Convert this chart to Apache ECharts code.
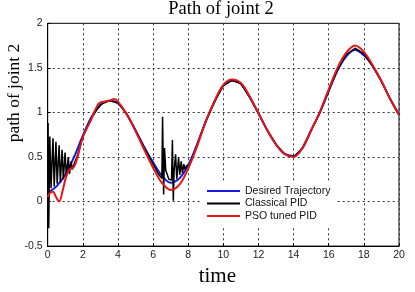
<!DOCTYPE html>
<html>
<head>
<meta charset="utf-8">
<script src="https://cdn.jsdelivr.net/npm/echarts@6/dist/echarts.min.js"></script>
<style>
  html, body { margin: 0; padding: 0; background: #fff; }
  #main { width: 415px; height: 292px; }
</style>
</head>
<body>
<div id="main"></div>
<script>
// desired trajectory (blue)
var desiredTime = [0, 0.5, 1, 1.5, 2, 2.5, 3, 3.5, 4, 4.5, 5, 5.5, 6, 6.5, 7, 7.5, 8, 8.5, 9, 9.5,
    10, 10.5, 11, 11.5, 12, 12.5, 13, 13.5, 14, 14.5, 15, 15.5, 16, 16.5, 17, 17.5, 18, 18.5, 19, 19.5, 20];
var desiredValues = [0.10, 0.17, 0.30, 0.50, 0.74, 0.95, 1.08, 1.13, 1.10, 0.98, 0.80, 0.61, 0.44, 0.29, 0.21, 0.26, 0.41, 0.64, 0.90, 1.12,
    1.30, 1.355, 1.32, 1.17, 0.99, 0.80, 0.64, 0.535, 0.51, 0.60, 0.80, 1.00, 1.24, 1.47, 1.63, 1.70, 1.64, 1.52, 1.35, 1.15, 0.98];

// classical PID (black)
var pidTime = [0, 0.02, 0.06, 0.12, 0.19, 0.3, 0.37, 0.47, 0.54, 0.65, 0.72, 0.82, 0.89, 0.99, 1.06, 1.17, 1.24, 1.33, 1.4, 1.5,
    1.7, 2, 2.5, 3, 3.5, 4, 4.5, 5, 5.5, 6, 6.3, 6.5, 6.54, 6.6, 6.65, 6.72, 6.9, 7.05, 7.1, 7.15,
    7.2, 7.28, 7.35, 7.45, 7.52, 7.6, 7.67, 7.75, 7.82, 7.9, 8.1, 8.5, 9, 9.5, 10, 10.5, 11, 11.5, 12, 12.5,
    13, 13.5, 14, 14.5, 15, 15.5, 16, 16.5, 17, 17.5, 18, 18.5, 19, 19.5, 20];
var pidValues = [0.05, 0.88, -0.30, 0.73, 0.15, 0.71, 0.17, 0.67, 0.20, 0.63, 0.22, 0.58, 0.25, 0.55, 0.28, 0.50, 0.31, 0.45, 0.36, 0.42,
    0.52, 0.73, 0.94, 1.09, 1.13, 1.11, 0.98, 0.80, 0.60, 0.42, 0.31, 0.26, 0.95, 0.08, 0.60, 0.35, 0.25, 0.24, 0.69, 0.01,
    0.35, 0.53, 0.25, 0.49, 0.30, 0.45, 0.32, 0.42, 0.36, 0.40, 0.42, 0.63, 0.90, 1.12, 1.30, 1.36, 1.32, 1.17, 0.99, 0.80,
    0.64, 0.53, 0.50, 0.60, 0.80, 1.00, 1.25, 1.48, 1.65, 1.72, 1.66, 1.52, 1.35, 1.15, 0.97];

// PSO tuned PID (red)
var psoTime = [0, 0.15, 0.3, 0.45, 0.65, 0.85, 1.05, 1.25, 1.5, 1.7, 2, 2.5, 2.9, 3.2, 3.5, 3.8, 4, 4.5, 5, 5.5,
    6, 6.5, 7, 7.5, 8, 8.5, 9, 9.5, 10, 10.5, 11, 11.5, 12, 12.5, 13, 13.5, 14, 14.5, 15, 15.5,
    16, 16.5, 17, 17.5, 18, 18.5, 19, 19.5, 20];
var psoValues = [0.05, 0.10, 0.11, 0.06, 0.00, 0.12, 0.28, 0.36, 0.39, 0.50, 0.72, 0.93, 1.10, 1.12, 1.13, 1.15, 1.12, 0.98, 0.79, 0.58,
    0.38, 0.21, 0.13, 0.19, 0.37, 0.62, 0.90, 1.13, 1.31, 1.37, 1.33, 1.18, 0.99, 0.80, 0.64, 0.53, 0.50, 0.60, 0.80, 1.01,
    1.26, 1.50, 1.67, 1.75, 1.68, 1.53, 1.35, 1.15, 0.97];

var seriesNames = ['Desired Trajectory', 'Classical PID', 'PSO tuned PID'];

function pairs(ts, vs) {
    return ts.map(function (t, i) { return [t, vs[i]]; });
}

var myChart = echarts.init(document.getElementById('main'));
var gridDots = { color: '#333', width: 1, type: [2, 3] };

myChart.setOption({
    animation: false,
    backgroundColor: '#fff',
    title: {
        text: 'Path of joint 2',
        left: 221,
        textAlign: 'center',
        top: 0,
        padding: 0,
        textStyle: { fontFamily: 'Liberation Serif', fontSize: 18.5, fontWeight: 'normal', color: '#000' }
    },
    grid: {
        left: 47.7, right: 16, top: 23.3, bottom: 33.7,
        show: true, borderColor: '#000', borderWidth: 1, backgroundColor: 'transparent'
    },
    legend: {
        orient: 'vertical',
        left: 200,
        top: 181,
        padding: [4, 6, 4, 7],
        backgroundColor: '#fff',
        itemWidth: 33,
        itemHeight: 2,
        itemGap: 0.5,
        icon: 'rect',
        data: seriesNames,
        textStyle: { fontFamily: 'Liberation Sans', fontSize: 10.5, lineHeight: 12, color: '#111' }
    },
    xAxis: {
        type: 'value',
        min: 0, max: 20, interval: 2,
        name: 'time',
        nameLocation: 'middle',
        nameGap: 13,
        nameTextStyle: { fontFamily: 'Liberation Serif', fontSize: 21, color: '#000', padding: [0, 12, 0, 0] },
        axisLine: { show: true, onZero: false, lineStyle: { color: '#000' } },
        axisTick: { show: true, inside: true, length: 3, lineStyle: { color: '#000' } },
        axisLabel: { margin: 4, fontFamily: 'Liberation Sans', fontSize: 10.5, color: '#222' },
        splitLine: { show: true, lineStyle: gridDots }
    },
    yAxis: {
        type: 'value',
        min: -0.5, max: 2, interval: 0.5,
        axisLine: { show: true, onZero: false, lineStyle: { color: '#000' } },
        axisTick: { show: true, inside: true, length: 3, lineStyle: { color: '#000' } },
        axisLabel: { margin: 5, fontFamily: 'Liberation Sans', fontSize: 10.5, color: '#222' },
        splitLine: { show: true, lineStyle: gridDots }
    },
    graphic: [{
        type: 'text',
        x: 14,
        y: 93,
        rotation: Math.PI / 2,
        style: {
            text: 'path of joint 2',
            x: 0, y: 0,
            textAlign: 'center',
            textVerticalAlign: 'middle',
            font: '17.5px "Liberation Serif"',
            fill: '#000'
        }
    }],
    series: [
        {
            name: seriesNames[0],
            type: 'line',
            data: pairs(desiredTime, desiredValues),
            smooth: 0.35,
            showSymbol: false,
            color: '#1a1adf',
            lineStyle: { width: 2 }
        },
        {
            name: seriesNames[1],
            type: 'line',
            data: pairs(pidTime, pidValues),
            smooth: false,
            showSymbol: false,
            color: '#000',
            lineStyle: { width: 1.5 }
        },
        {
            name: seriesNames[2],
            type: 'line',
            data: pairs(psoTime, psoValues),
            smooth: 0.35,
            showSymbol: false,
            color: '#e41515',
            lineStyle: { width: 2 }
        }
    ]
});
</script>
</body>
</html>
